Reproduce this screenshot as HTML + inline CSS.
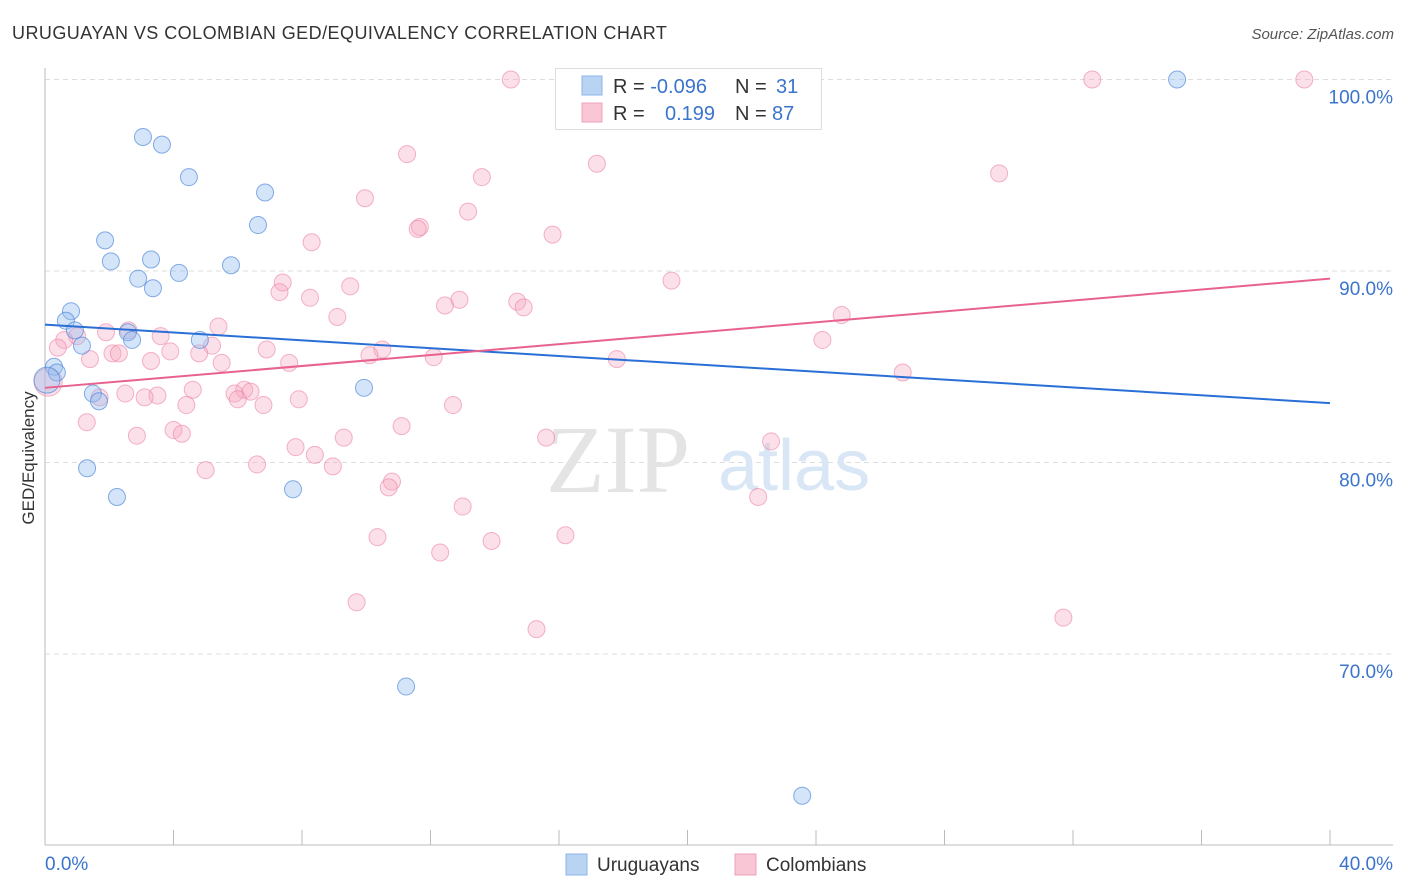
<!DOCTYPE html>
<html><head><meta charset="utf-8"><style>
body{margin:0;background:#fff;font-family:"Liberation Sans",sans-serif;}
svg{display:block}
</style></head><body>
<svg id="chart" width="1406" height="892">
<text x="12" y="39" font-size="18" letter-spacing="0.45" fill="#333">URUGUAYAN VS COLOMBIAN GED/EQUIVALENCY CORRELATION CHART</text>
<text x="1394" y="39" font-size="15" fill="#555" font-style="italic" text-anchor="end">Source: ZipAtlas.com</text>
<g id="grid"></g>
<text x="690" y="492" font-size="96" fill="#e4e4e4" font-family="Liberation Serif,serif" text-anchor="end">ZIP</text>
<text x="718" y="490" font-size="72" fill="#d8e6f5">atlas</text>
<g id="marks"></g>
<text transform="translate(34,458) rotate(-90)" font-size="17" fill="#333" text-anchor="middle">GED/Equivalency</text>
<g>
<rect x="555.5" y="68.5" width="266" height="61" fill="#fff" stroke="#ddd"/>
<rect x="582" y="76" width="20" height="19" fill="#b9d3f3" stroke="#8db4e8"/>
<rect x="582" y="103" width="20" height="19" fill="#f9c6d6" stroke="#f0a2ba"/>
<text x="613" y="93" font-size="20" fill="#333">R = <tspan fill="#3b74cc">-0.096</tspan><tspan x="735">N = </tspan><tspan x="776" fill="#3b74cc">31</tspan></text>
<text x="613" y="120" font-size="20" fill="#333">R = <tspan x="665" fill="#3b74cc">0.199</tspan><tspan x="735">N = </tspan><tspan x="772" fill="#3b74cc">87</tspan></text>
</g>
<g>
<rect x="566" y="854" width="21" height="21" fill="#b9d3f3" stroke="#8db4e8"/>
<text x="597" y="871" font-size="19" fill="#333">Uruguayans</text>
<rect x="735" y="854" width="21" height="21" fill="#f9c6d6" stroke="#f0a2ba"/>
<text x="766" y="871" font-size="19" fill="#333">Colombians</text>
</g>
</svg>
<script>
const xTicks=[0,40];
const yTicks=[70,80,90,100];
const uruX=[3.05,3.64,4.48,6.85,6.63,1.87,2.05,3.30,2.90,3.36,4.17,5.79,0.81,0.65,0.93,2.58,2.71,4.82,1.15,0.28,0.37,1.49,1.68,9.93,1.31,2.24,7.72,11.24,23.57,35.24,0.06];
const uruY=[97.0,96.6,94.9,94.1,92.4,91.6,90.5,90.6,89.6,89.1,89.9,90.3,87.9,87.4,86.9,86.8,86.4,86.4,86.1,85.0,84.7,83.6,83.2,83.9,79.7,78.2,78.6,68.3,62.6,100.0,84.3];
const colX=[14.5,32.6,39.2,11.27,17.18,13.6,29.7,9.96,13.17,11.67,11.6,15.8,8.3,7.4,7.3,9.5,8.25,19.5,12.9,12.45,14.7,14.9,9.1,24.8,5.4,1.9,2.6,3.6,1.0,0.6,24.2,0.4,6.9,10.5,5.2,3.9,2.1,2.3,4.8,10.1,12.1,1.4,3.3,7.6,5.5,17.8,26.7,4.6,6.2,6.4,2.5,3.5,5.9,6.0,7.9,3.1,1.7,6.8,4.4,12.7,1.3,4.0,4.26,2.86,9.3,11.1,15.6,22.6,7.8,8.4,6.6,8.96,5.0,10.8,10.7,22.2,13.0,10.35,16.2,13.9,12.3,9.7,15.3,31.7,0.1];
const colY=[100,100,100,96.1,95.6,94.9,95.1,93.8,93.1,92.3,92.2,91.9,91.5,89.4,88.9,89.2,88.6,89.5,88.5,88.2,88.4,88.1,87.6,87.7,87.1,86.8,86.9,86.6,86.6,86.4,86.4,86.0,85.9,85.9,86.1,85.8,85.7,85.7,85.7,85.6,85.5,85.4,85.3,85.2,85.2,85.4,84.7,83.8,83.8,83.7,83.6,83.5,83.6,83.3,83.3,83.4,83.4,83.0,83.0,83.0,82.1,81.7,81.5,81.4,81.3,81.9,81.3,81.1,80.8,80.4,79.9,79.8,79.6,79.0,78.7,78.2,77.7,76.1,76.2,75.9,75.3,72.7,71.3,71.9,84.2];
const uruTrend=[87.2,83.1];
const colTrend=[83.9,89.6];
const NS='http://www.w3.org/2000/svg';
const sx=v=>45+v/40*1285;
const sy=v=>79.5+(100-v)*19.15;
function mk(tag,attrs,parent){const e=document.createElementNS(NS,tag);for(const k in attrs)e.setAttribute(k,attrs[k]);parent.appendChild(e);return e;}
const grid=document.getElementById('grid');
const marks=document.getElementById('marks');
const svg=document.getElementById('chart');
yTicks.forEach(t=>{
 const l=mk('line',{x1:45,x2:1393,y1:sy(t),y2:sy(t),stroke:'#ddd','stroke-dasharray':'5,4'},grid);
 
 
 const tx=mk('text',{x:1393,y:sy(t)+24,'font-size':19,fill:'#3b74cc','text-anchor':'end'},svg);
 tx.textContent=t.toFixed(1)+'%';
 
 
});
const ax=mk('line',{x1:45,x2:45,y1:68,y2:845,stroke:'#bbb'},grid);


const bx=mk('line',{x1:45,x2:1393,y1:845,y2:845,stroke:'#bbb'},grid);


for(let i=0;i<=10;i++){
 const t=mk('line',{x1:sx(i*4),x2:sx(i*4),y1:830,y2:845,stroke:'#bbb'},grid);
 
 
}
xTicks.forEach((t,i)=>{
 const tx=mk('text',{x:i==0?45:1393,y:870,'font-size':19,fill:'#3b74cc','text-anchor':i==0?'start':'end'},svg);
 tx.textContent=t.toFixed(1)+'%';
 
 
});
colX.forEach((x,i)=>{
 const c=mk('circle',{cx:sx(x),cy:sy(colY[i]),r:i==colX.length-1?14:8.5,fill:'rgba(246,166,192,0.35)',stroke:'rgba(236,130,165,0.6)','stroke-width':1},marks);
 
 
});
uruX.forEach((x,i)=>{
 const c=mk('circle',{cx:sx(x),cy:sy(uruY[i]),r:i==uruX.length-1?13:8.5,fill:'rgba(150,190,240,0.4)',stroke:'rgba(70,130,215,0.65)','stroke-width':1},marks);
 
 
});
const tl1=mk('line',{x1:sx(0),y1:sy(uruTrend[0]),x2:sx(40),y2:sy(uruTrend[1]),stroke:'#2a6fd6','stroke-width':2},marks);


const tl2=mk('line',{x1:sx(0),y1:sy(colTrend[0]),x2:sx(40),y2:sy(colTrend[1]),stroke:'#e8628f','stroke-width':2},marks);


</script>
</body></html>
